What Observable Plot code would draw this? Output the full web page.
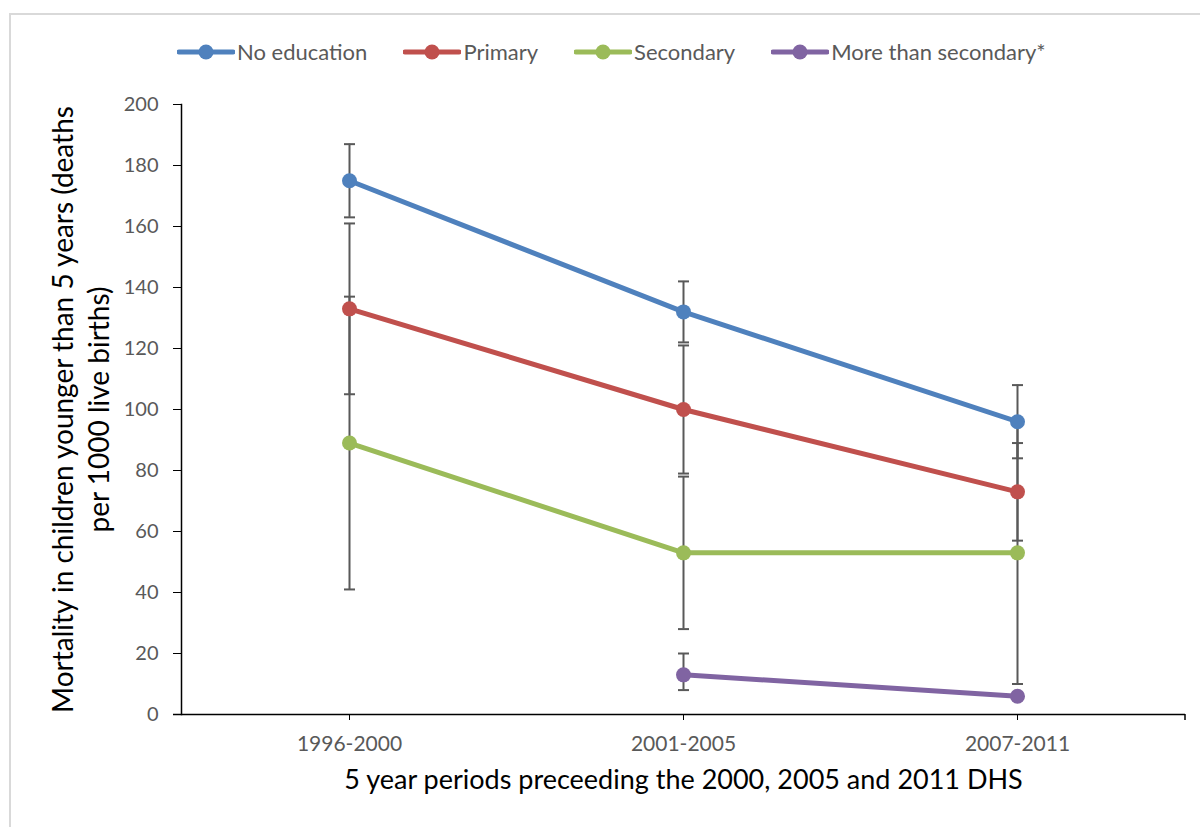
<!DOCTYPE html>
<html><head><meta charset="utf-8">
<script src="https://cdn.jsdelivr.net/npm/d3@7"></script>
<script src="https://cdn.jsdelivr.net/npm/@observablehq/plot@0.6"></script>
<style>
body{margin:0;background:#fff;font-family:Lato,sans-serif;}
#wrap{position:relative;width:1200px;height:827px;overflow:hidden;background:#fff;}
#border{position:absolute;left:9px;top:13px;width:1400px;height:1000px;border:2px solid #d9d9d9;box-sizing:border-box;}
#chart{position:absolute;left:0;top:0;}
#legend{position:absolute;top:38px;left:177px;display:flex;align-items:center;font-size:22px;color:#595959;white-space:nowrap;}
#legend .item{display:flex;align-items:center;margin-right:36px;}
#legend .item span{margin-left:2px;}
</style></head>
<body>
<div id="wrap"><div id="border"></div><div id="chart"></div><div id="legend"></div></div>
<script>
const periods = ["1996-2000", "2001-2005", "2007-2011"];
const seriesNames = ["No education", "Primary", "Secondary", "More than secondary*"];
const seriesColors = ["#4F81BD", "#C0504D", "#9BBB59", "#8064A2"];

const noEducation     = [175, 132, 96];
const noEducationLow  = [163, 122, 84];
const noEducationHigh = [187, 142, 108];

const primary     = [133, 100, 73];
const primaryLow  = [105, 79, 57];
const primaryHigh = [161, 121, 89];

const secondary     = [89, 53, 53];
const secondaryLow  = [41, 28, 10];
const secondaryHigh = [137, 78, 96];

const moreThanSecondary     = [null, 13, 6];
const moreThanSecondaryLow  = [null, 8, null];
const moreThanSecondaryHigh = [null, 20, null];

const yTicks = [0, 20, 40, 60, 80, 100, 120, 140, 160, 180, 200];
const yTitle = "Mortality in children younger than 5 years (deaths\nper 1000 live births)";
const xTitle = "5 year periods preceeding the 2000, 2005 and 2011 DHS";

const values = [noEducation, primary, secondary, moreThanSecondary];
const lows = [noEducationLow, primaryLow, secondaryLow, moreThanSecondaryLow];
const highs = [noEducationHigh, primaryHigh, secondaryHigh, moreThanSecondaryHigh];

const rows = [];
const errs = [];
const caps = [];
seriesNames.forEach((s, i) => {
  periods.forEach((p, j) => {
    rows.push({series: s, period: p, value: values[i][j]});
    if (lows[i][j] != null && highs[i][j] != null) {
      errs.push({series: s, period: p, low: lows[i][j], high: highs[i][j]});
      caps.push({period: p, y: lows[i][j]});
      caps.push({period: p, y: highs[i][j]});
    }
  });
});

const capSymbol = {
  draw(ctx, size) {
    const w = Math.sqrt(size / Math.PI);
    ctx.moveTo(-w, 0);
    ctx.lineTo(w, 0);
  }
};

const W = 1200, H = 827, mT = 104, mB = 113, mL = 181, mR = 15;

const plot = Plot.plot({
  width: W, height: H,
  marginTop: mT, marginBottom: mB, marginLeft: mL, marginRight: mR,
  style: {fontFamily: "Lato, sans-serif", background: "transparent", overflow: "visible"},
  x: {type: "point", domain: periods, padding: 0.5, label: null},
  y: {domain: [0, 200], label: null},
  color: {domain: seriesNames, range: seriesColors},
  marks: [
    Plot.ruleX(errs, {x: "period", y1: "low", y2: "high", stroke: "#595959", strokeWidth: 2}),
    Plot.dot(caps, {x: "period", y: "y", symbol: capSymbol, r: 5.5, stroke: "#595959", strokeWidth: 2, fill: "none"}),
    Plot.line(rows, {x: "period", y: "value", z: "series", stroke: "series", strokeWidth: 5, strokeLinecap: "round", strokeLinejoin: "round"}),
    Plot.dot(rows, {x: "period", y: "value", fill: "series", r: 7.5, stroke: "none"}),
    Plot.frame({anchor: "left", stroke: "#000", strokeWidth: 1.5}),
    Plot.ruleY([0], {stroke: "#000", strokeWidth: 1.5, insetLeft: -8}),
    Plot.axisY({ticks: yTicks, tickSize: 8, tickPadding: 15, fontSize: 20, stroke: "#000", fill: "#595959", label: null}),
    Plot.axisX({tickSize: 6, tickPadding: 16, fontSize: 21, stroke: "#000", fill: "#595959", label: null}),
    Plot.text([yTitle], {frameAnchor: "left", textAnchor: "middle", rotate: -90, dx: -102, lineAnchor: "middle", lineHeight: 1.27, fontSize: 28, fill: "#000"}),
    Plot.text([xTitle], {frameAnchor: "bottom", dy: 74, fontSize: 27, fill: "#000"})
  ]
});

// right-end tick of the category axis
const xr = plot.scale("x").range;
d3.select(plot).append("line")
  .attr("x1", xr[1]).attr("x2", xr[1])
  .attr("y1", H - mB).attr("y2", H - mB + 6)
  .attr("stroke", "#000").attr("stroke-width", 1.5);

document.getElementById("chart").appendChild(plot);

const legend = d3.select("#legend");
seriesNames.forEach((s, i) => {
  const item = legend.append("div").attr("class", "item");
  const svg = item.append("svg").attr("width", 58).attr("height", 18);
  svg.append("line").attr("x1", 2).attr("x2", 56).attr("y1", 9).attr("y2", 9)
    .attr("stroke", seriesColors[i]).attr("stroke-width", 5).attr("stroke-linecap", "round");
  svg.append("circle").attr("cx", 29).attr("cy", 9).attr("r", 7.5).attr("fill", seriesColors[i]);
  item.append("span").text(s);
});
</script>
</body></html>
